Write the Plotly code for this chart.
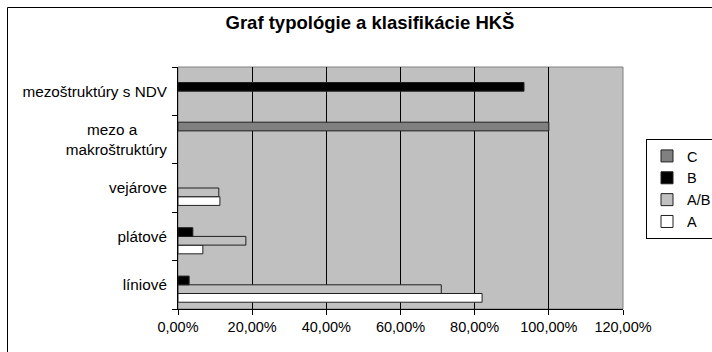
import plotly.graph_objects as go

# Categories (bottom to top) and share of each class per structure type
categories = ["líniové", "plátové", "vejárove",
              "mezo a" + "\u00a0" * 7 + "<br>makroštruktúry", "mezoštruktúry s NDV"]
series_names = ["A", "A/B", "B", "C"]
vals_A = [0.82, 0.067, 0.113, None, None]
vals_AB = [0.71, 0.183, 0.11, None, None]
vals_B = [0.03, 0.04, None, None, 0.933]
vals_C = [None, None, None, 1.00, None]
x_ticks = [0, 0.2, 0.4, 0.6, 0.8, 1.0, 1.2]

colors = {"A": "#ffffff", "A/B": "#c0c0c0", "B": "#000000", "C": "#808080"}
series_vals = {"A": vals_A, "A/B": vals_AB, "B": vals_B, "C": vals_C}
# legend lists the series top-down as C, B, A/B, A
legend_rank = {"C": 1, "B": 2, "A/B": 3, "A": 4}

FONT = "Liberation Sans, Arial, sans-serif"

fig = go.Figure()
for name in series_names:
    fig.add_trace(go.Bar(
        name=name,
        y=categories,
        x=series_vals[name],
        orientation="h",
        marker=dict(color=colors[name], line=dict(color="#202020", width=1)),
        legendgroup=name,
        legendrank=legend_rank[name],
    ))

W, H = 712, 352
L, R, T, B = 178, 89, 67, 43
pw, ph = W - L - R, H - T - B

def px_x(v):
    return (v - L) / pw

def px_y(v):
    return (H - B - v) / ph

fig.update_layout(
    width=W, height=H,
    margin=dict(l=L, r=R, t=T, b=B, pad=0, autoexpand=False),
    paper_bgcolor="#ffffff",
    plot_bgcolor="#c0c0c0",
    separators=", ",
    barmode="group",
    bargap=0.28,
    bargroupgap=0,
    font=dict(family=FONT, size=14, color="#000000"),
    title=dict(
        text="<b>Graf typológie a klasifikácie HKŠ</b>",
        font=dict(family=FONT, size=18.5, color="#000000"),
        x=370 / W, xanchor="center",
        y=1 - 23 / H, yanchor="middle", yref="container",
    ),
    xaxis=dict(
        range=[0, 1.2], tickvals=x_ticks, tickformat=".2%",
        showgrid=True, gridcolor="#000000", gridwidth=1,
        showline=True, linecolor="#000000", linewidth=1,
        ticks="outside", ticklen=5, tickcolor="#000000",
        zeroline=False, fixedrange=True,
        tickfont=dict(family=FONT, size=14.5),
    ),
    yaxis=dict(
        type="category", categoryorder="array", categoryarray=categories,
        tickson="boundaries", showgrid=False,
        showline=True, linecolor="#000000", linewidth=1,
        ticks="outside", ticklen=5, tickcolor="#000000",
        ticklabelstandoff=7,
        tickfont=dict(family=FONT, size=15.3),
        fixedrange=True,
    ),
    legend=dict(
        x=px_x(646), y=px_y(139), xanchor="left", yanchor="top",
        bgcolor="#ffffff", bordercolor="#000000", borderwidth=1,
        traceorder="grouped", tracegroupgap=0,
        font=dict(family=FONT, size=14.5),
        itemclick=False, itemdoubleclick=False,
    ),
    shapes=[
        # plot area frame (top and right edges)
        dict(type="rect", xref="paper", yref="paper", x0=0, x1=1, y0=0, y1=1,
             line=dict(color="#808080", width=1), fillcolor="rgba(0,0,0,0)", layer="below"),
        # chart outer frame
        dict(type="rect", xref="paper", yref="paper",
             x0=px_x(7.5), x1=px_x(760), y0=px_y(400), y1=px_y(7.5),
             line=dict(color="#000000", width=1), fillcolor="rgba(0,0,0,0)"),
    ],
)

fig.write_html("out.html")
